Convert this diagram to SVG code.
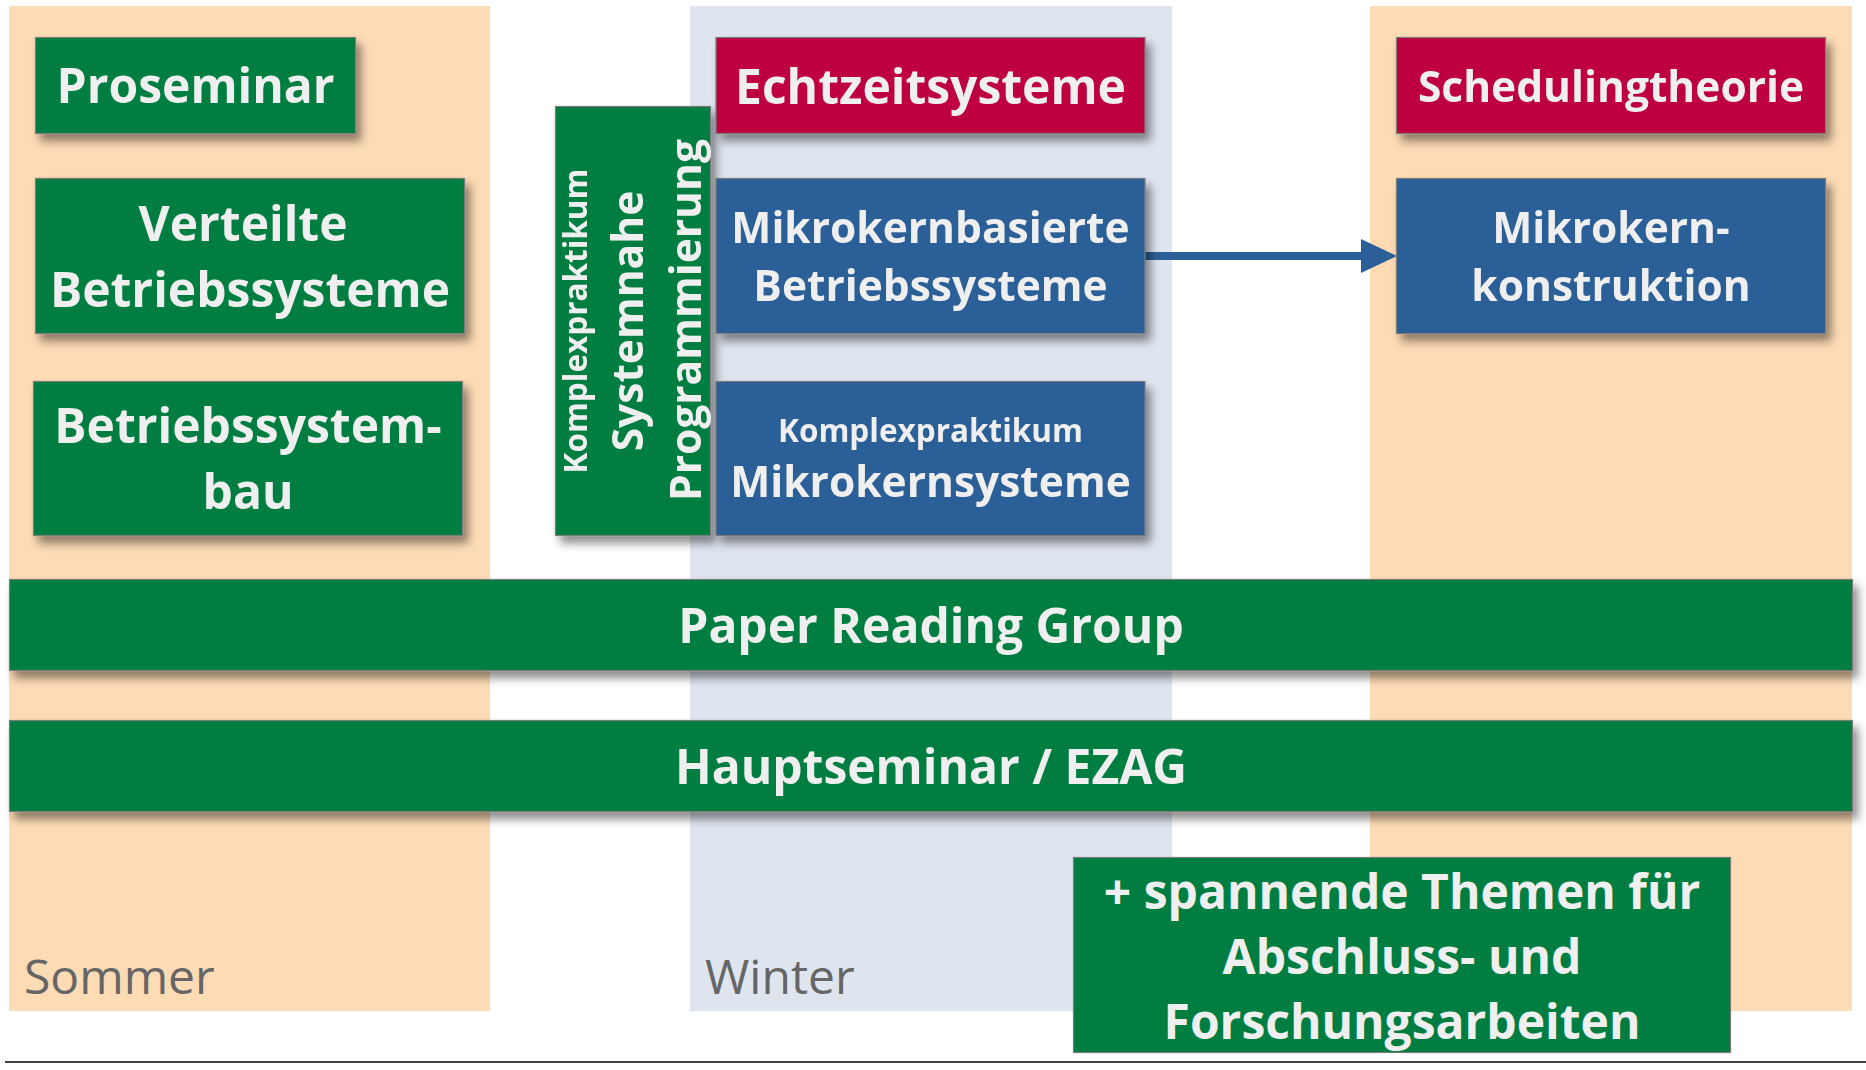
<svg xmlns="http://www.w3.org/2000/svg" width="1866" height="1070" viewBox="0 0 1866 1070">
<style>
.bg{fill:#ffffff}
.sommer{fill:#FDDBB5}
.winter{fill:#DEE5EF}
.green{fill:#007D40;stroke:#7A7A7A;stroke-width:1.2}
.red{fill:#BE003F;stroke:#7A7A7A;stroke-width:1.2}
.blue{fill:#2C5F97;stroke:#7A7A7A;stroke-width:1.2}
.box{filter:url(#sh)}
.t{font-family:"Open Sans","Noto Sans","DejaVu Sans",sans-serif;font-weight:700;fill:#EFEFEF;text-anchor:middle}
.f48{font-size:48px}
.f43{font-size:42.5px}
.f32{font-size:31.5px}
.season{font-family:"Open Sans","Noto Sans","DejaVu Sans",sans-serif;font-weight:400;font-size:48px;fill:#666666}
</style>
<defs>
<filter id="sh" x="-10%" y="-20%" width="130%" height="160%">
<feDropShadow dx="5" dy="7" stdDeviation="5" flood-color="#000000" flood-opacity="0.45"/>
</filter>
<marker id="arr" markerUnits="userSpaceOnUse" markerWidth="40" markerHeight="36" refX="4" refY="17" orient="auto">
<path d="M0,0 L36,17 L0,34 Z" fill="#2C5F97"/>
</marker>
</defs>
<rect class="bg" x="0" y="0" width="1866" height="1070"/>
<g id="columns">
<rect id="col-sommer" class="sommer" x="9" y="6" width="481" height="1005"/>
<rect id="col-winter" class="winter" x="690" y="6" width="482" height="1005"/>
<rect id="col-sommer2" class="sommer" x="1370" y="6" width="482" height="1005"/>
<text class="season" x="24" y="994">Sommer</text>
<text class="season" x="705" y="994">Winter</text>
</g>
<g id="connectors">
<line x1="1145" y1="256" x2="1365" y2="256" stroke="#2C5F97" stroke-width="8" marker-end="url(#arr)"/>
</g>
<g id="proseminar" class="box">
<rect class="green" x="35.5" y="37.5" width="320" height="96"/>
<text class="t f48" x="195.5" y="103">Proseminar</text>
</g>
<g id="verteilte" class="box">
<rect class="green" x="35.5" y="178.5" width="429" height="155"/>
<text class="t f48" x="243" y="241">Verteilte</text>
<text class="t f48" x="250" y="307">Betriebssysteme</text>
</g>
<g id="bsbau" class="box">
<rect class="green" x="33.5" y="381.5" width="429" height="154"/>
<text class="t f48" x="248" y="443">Betriebssystem-</text>
<text class="t f48" x="248" y="509">bau</text>
</g>
<g id="systemnahe" class="box">
<rect class="green" x="555.5" y="106.5" width="155" height="429"/>
<text class="t f32" transform="translate(587,321) rotate(-90)">Komplexpraktikum</text>
<text class="t f43" transform="translate(643,321) rotate(-90)">Systemnahe</text>
<text class="t f43" transform="translate(701,320) rotate(-90)">Programmierung</text>
</g>
<g id="echtzeit" class="box">
<rect class="red" x="716" y="37.5" width="429" height="96"/>
<text class="t f48" x="930.5" y="104">Echtzeitsysteme</text>
</g>
<g id="mkbs" class="box">
<rect class="blue" x="716" y="178.5" width="429" height="155"/>
<text class="t f43" x="930.5" y="243">Mikrokernbasierte</text>
<text class="t f43" x="930.5" y="301">Betriebssysteme</text>
</g>
<g id="mksys" class="box">
<rect class="blue" x="716" y="381.5" width="429" height="154"/>
<text class="t f32" x="930.5" y="442">Komplexpraktikum</text>
<text class="t f43" x="930.5" y="497">Mikrokernsysteme</text>
</g>
<g id="scheduling" class="box">
<rect class="red" x="1396.5" y="37.5" width="429" height="96"/>
<text class="t f43" x="1611" y="102">Schedulingtheorie</text>
</g>
<g id="mkkonstruktion" class="box">
<rect class="blue" x="1396.5" y="178.5" width="429" height="155"/>
<text class="t f43" x="1611" y="243">Mikrokern-</text>
<text class="t f43" x="1611" y="301">konstruktion</text>
</g>
<g id="paperreading" class="box">
<rect class="green" x="9.5" y="579.5" width="1843" height="91"/>
<text class="t f48" x="931" y="643">Paper Reading Group</text>
</g>
<g id="hauptseminar" class="box">
<rect class="green" x="9.5" y="720.5" width="1843" height="91"/>
<text class="t f48" x="931" y="784">Hauptseminar / EZAG</text>
</g>
<g id="themen">
<rect class="green" x="1073.5" y="857.5" width="657" height="195"/>
<text class="t f48" x="1402" y="909">+ spannende Themen für</text>
<text class="t f48" x="1402" y="974">Abschluss- und</text>
<text class="t f48" x="1402" y="1039">Forschungsarbeiten</text>
</g>
<line x1="5" y1="1062" x2="1866" y2="1062" stroke="#000000" stroke-width="1.5"/>
</svg>
